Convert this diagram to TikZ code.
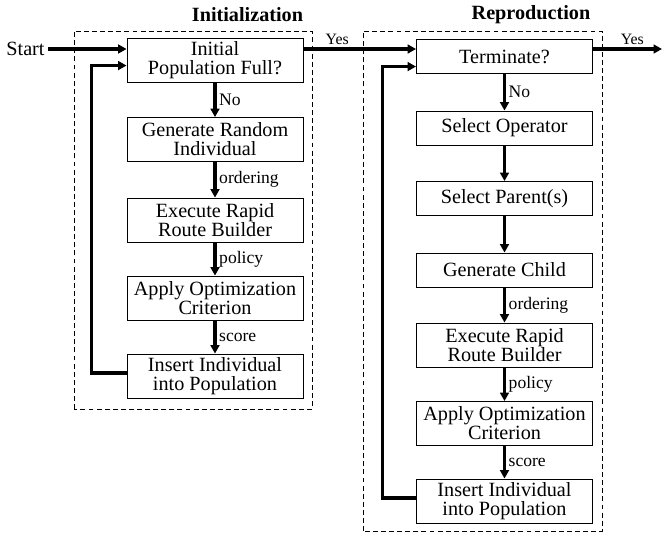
\documentclass[tikz,border=0pt]{standalone}
\usepackage{fontspec}
\setmainfont{Liberation Serif}
\usepackage{tikz}
\usetikzlibrary{arrows.meta, positioning, calc}

\begin{document}
\begin{tikzpicture}[x=1cm, y=1cm,
  stepbox/.style={draw, line width=0.5pt, minimum width=3.52cm, minimum height=0.68cm,
    inner sep=1pt, align=center, font=\fontsize{11.5}{10.8}\selectfont},
  tallbox/.style={stepbox, minimum height=0.88cm},
  flow/.style={line width=1.8pt, -{Triangle[length=4.8pt, width=5pt]}},
  edgelbl/.style={font=\fontsize{10}{10}\selectfont, right, inner sep=1.5pt},
  yeslbl/.style={font=\fontsize{9}{9}\selectfont, above, inner sep=1.5pt},
  stage/.style={draw, line width=0.5pt, dash pattern=on 2.8pt off 1.8pt},
  stagetitle/.style={font=\fontsize{11.5}{11.5}\selectfont\bfseries}]
\useasboundingbox (0,0) rectangle (13.24,10.68);

% stage frames
\draw[stage] (1.48,2.50) rectangle (6.24,10.06);
\draw[stage] (7.26,0.06) rectangle (12.04,10.06);
\node[stagetitle] (inittitle) at (4.95,10.38) {Initialization};
\node[stagetitle] (reprotitle) at (10.62,10.38) {Reproduction};

% initialization
\node[font=\fontsize{11.5}{11.5}\selectfont, inner sep=2pt] (start) at (0.51,9.70) {Start};
\node[tallbox] (initq) at (4.30,9.47) {Initial\\Population Full?};
\node[tallbox] (genrand) at (4.30,7.89) {Generate Random\\Individual};
\node[tallbox] (execA) at (4.30,6.28) {Execute Rapid\\Route Builder};
\node[tallbox] (applyA) at (4.30,4.72) {Apply Optimization\\Criterion};
\node[tallbox] (insA) at (4.30,3.16) {Insert Individual\\into Population};

% reproduction
\node[stepbox] (term) at (10.09,9.55) {Terminate?};
\node[stepbox] (selop) at (10.09,8.12) {Select Operator};
\node[stepbox] (selpar) at (10.09,6.71) {Select Parent(s)};
\node[stepbox] (genchild) at (10.09,5.28) {Generate Child};
\node[tallbox] (execB) at (10.09,3.78) {Execute Rapid\\Route Builder};
\node[tallbox] (applyB) at (10.09,2.21) {Apply Optimization\\Criterion};
\node[tallbox] (insB) at (10.09,0.66) {Insert Individual\\into Population};
\coordinate (finish) at (13.24,9.70);

% connectors
\draw[flow] (start) -- (start -| initq.west);
\draw[flow] (initq) -- node[edgelbl] {No} (genrand);
\draw[flow] (genrand) -- node[edgelbl] {ordering} (execA);
\draw[flow] (execA) -- node[edgelbl] {policy} (applyA);
\draw[flow] (applyA) -- node[edgelbl] {score} (insA);
\draw[flow] ($(insA.west)+(0,0.06)$) -- ++(-0.70,0) |- ($(initq.north west)+(0,-0.55)$);

\draw[flow] (start -| initq.east) -- node[yeslbl, pos=0.3] {Yes} (start -| term.west);
\draw[flow] (term) -- node[edgelbl] {No} (selop);
\draw[flow] (selop) -- (selpar);
\draw[flow] (selpar) -- (genchild);
\draw[flow] (genchild) -- node[edgelbl] {ordering} (execB);
\draw[flow] (execB) -- node[edgelbl] {policy} (applyB);
\draw[flow] (applyB) -- node[edgelbl] {score} (insB);
\draw[flow] ($(insB.west)+(0,0.06)$) -- ++(-0.67,0) |- ($(term.north west)+(0,-0.55)$);
\draw[flow] (start -| term.east) -- node[yeslbl, pos=0.57] {Yes} (finish);
\end{tikzpicture}
\end{document}
